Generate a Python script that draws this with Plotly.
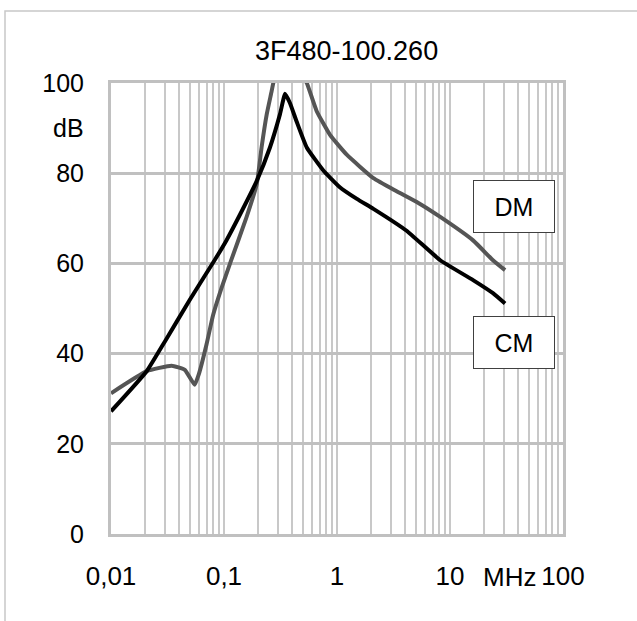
import plotly.graph_objects as go

# Data (frequency in MHz, attenuation in dB)
cm_freq = [0.01, 0.0207, 0.03, 0.05, 0.083, 0.105, 0.139, 0.195, 0.255, 0.313, 0.347,
           0.384, 0.44, 0.54, 0.757, 1.06, 1.5, 2.1, 4.1, 8.2, 16, 24, 30.7]
cm_db = [27.2, 36.1, 42.7, 52.0, 60.8, 65.1, 70.9, 78.3, 85.7, 93.1, 97.6,
         95.5, 91.4, 85.7, 80.6, 76.9, 74.3, 72.1, 67.3, 60.7, 56.3, 53.4, 51.1]

dm_freq = [0.01, 0.0207, 0.0344, 0.045, 0.055, 0.06, 0.07, 0.08, 0.095, 0.115,
           0.158, 0.195, 0.215, 0.239, 0.264, 0.273, 0.3, 0.38, 0.46, 0.54, 0.66,
           0.867, 1.22, 2.1, 3.37, 5.25, 8.2, 16, 24, 30.7]
dm_db = [31.2, 36.1, 37.3, 36.4, 33.1, 35.5, 42.0, 48.5, 54.5, 60.5,
         70.2, 77.6, 85.7, 93.1, 98.2, 100, 103, 105, 103, 100, 93.8,
         88.5, 84.1, 78.9, 76.0, 73.4, 70.3, 65.1, 60.7, 58.5]

title_text = "3F480-100.260"
decade_labels = {0.01: "0,01", 0.1: "0,1", 1: "1", 10: "10", 100: "100"}
y_ticks = [0, 20, 40, 60, 80, 100]

FONT = "Liberation Sans, Arial, sans-serif"

# x tick positions: all 1..9 multiples per decade (gridlines), labels only at decades
xtickvals = []
xticktext = []
for d in [0.01, 0.1, 1, 10]:
    for m in range(1, 10):
        v = round(d * m, 6)
        xtickvals.append(v)
        xticktext.append(decade_labels.get(v, ""))
xtickvals.append(100)
xticktext.append(decade_labels[100])

fig = go.Figure()
fig.add_trace(go.Scatter(x=dm_freq, y=dm_db, mode="lines", name="DM",
                         line=dict(color="#555555", width=4, shape="spline", smoothing=0.4)))
fig.add_trace(go.Scatter(x=cm_freq, y=cm_db, mode="lines", name="CM",
                         line=dict(color="#000000", width=4, shape="spline", smoothing=0.4)))

L, R, T, B = 111, 74, 83, 87
W, H = 637, 621
pw, ph = W - L - R, H - T - B

def px(xp):
    return (xp - L) / pw

def py(yp):
    return (H - B - yp) / ph

fig.update_layout(
    width=W, height=H,
    margin=dict(l=L, r=R, t=T, b=B, pad=0),
    paper_bgcolor="white", plot_bgcolor="white",
    showlegend=False,
    font=dict(family=FONT, size=25, color="#000000"),
    xaxis=dict(type="log", range=[-2, 2], tickvals=xtickvals, ticktext=xticktext,
               showgrid=True, gridcolor="#c8c8c8", gridwidth=1.5,
               showline=True, linecolor="#c0c0c0", linewidth=3, mirror=True,
               ticks="", ticklabelstandoff=17, zeroline=False, automargin=False,
               tickfont=dict(family=FONT, size=26)),
    yaxis=dict(range=[0, 100], tickvals=y_ticks,
               showgrid=True, gridcolor="#c0c0c0", gridwidth=3,
               showline=True, linecolor="#c0c0c0", linewidth=3, mirror=True,
               ticks="", ticklabelstandoff=19, zeroline=False, automargin=False,
               tickfont=dict(family=FONT, size=25)),
)

annotations = [
    dict(text=title_text, x=px(346), y=py(51), xref="paper", yref="paper",
         showarrow=False, font=dict(size=27), xanchor="center", yanchor="middle"),
    dict(text="dB", x=px(68), y=py(128), xref="paper", yref="paper",
         showarrow=False, font=dict(size=25), xanchor="center", yanchor="middle"),
    dict(text="MHz", x=px(509), y=py(577), xref="paper", yref="paper",
         showarrow=False, font=dict(size=26), xanchor="center", yanchor="middle"),
    dict(text="DM", x=px(514), y=py(206), xref="paper", yref="paper",
         showarrow=False, font=dict(size=25), xanchor="center", yanchor="middle",
         width=80, height=51, bgcolor="white", bordercolor="#404040", borderwidth=1, borderpad=0),
    dict(text="CM", x=px(514), y=py(342), xref="paper", yref="paper",
         showarrow=False, font=dict(size=25), xanchor="center", yanchor="middle",
         width=80, height=51, bgcolor="white", bordercolor="#404040", borderwidth=1, borderpad=0),
]
fig.update_layout(annotations=annotations)

# outer light frame of the chart
fig.add_shape(type="rect", xref="paper", yref="paper",
              x0=px(5), y0=py(640), x1=px(660), y1=py(11),
              line=dict(color="#c8c8c8", width=1.5), fillcolor="rgba(0,0,0,0)", layer="below")

fig.write_html("out.html", config={"displayModeBar": False},
               post_script="document.body.style.margin='0px';document.body.style.overflow='hidden';")
